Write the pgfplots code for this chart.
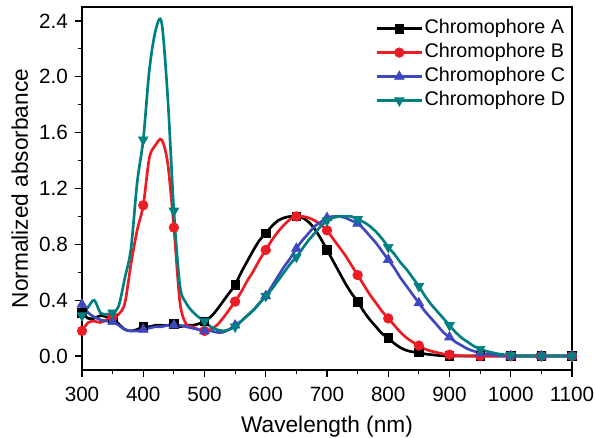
\documentclass[border=0pt]{standalone}
\usepackage{fontspec}
\setmainfont{Liberation Sans}
\usepackage{pgfplots}
\usepackage{pgfplotstable}
\pgfplotsset{compat=1.18}

\definecolor{cA}{RGB}{0,0,0}
\definecolor{cB}{RGB}{237,28,36}
\definecolor{cC}{RGB}{63,72,190}
\definecolor{cD}{RGB}{0,128,128}

% wavelength (nm), normalized absorbance of chromophores A-D
\pgfplotstableread{
x A B C D
300 0.31 0.18 0.37 0.29
310 0.27 0.24 0.31 0.35
320 0.27 0.25 0.28 0.40
330 0.29 0.24 0.26 0.31
340 0.28 0.26 0.25 0.30
350 0.27 0.28 0.245 0.31
360 0.23 0.30 0.22 0.36
370 0.19 0.38 0.19 0.56
380 0.18 0.66 0.18 0.77
390 0.19 0.90 0.18 1.24
400 0.21 1.08 0.19 1.55
410 0.21 1.42 0.20 2.05
420 0.22 1.51 0.21 2.33
430 0.22 1.55 0.21 2.39
440 0.22 1.38 0.22 1.85
450 0.23 0.92 0.22 1.04
460 0.21 0.38 0.22 0.50
470 0.22 0.23 0.21 0.38
480 0.22 0.21 0.20 0.32
490 0.23 0.19 0.19 0.28
500 0.25 0.18 0.18 0.25
510 0.28 0.19 0.18 0.21
520 0.33 0.22 0.17 0.19
530 0.39 0.27 0.17 0.18
540 0.45 0.33 0.19 0.19
550 0.51 0.39 0.22 0.21
560 0.60 0.46 0.25 0.25
570 0.68 0.54 0.29 0.29
580 0.76 0.61 0.33 0.33
590 0.83 0.69 0.38 0.38
600 0.88 0.76 0.43 0.43
610 0.93 0.83 0.50 0.48
620 0.97 0.89 0.57 0.54
630 0.99 0.94 0.64 0.60
640 1.00 0.98 0.70 0.66
650 1.00 1.00 0.77 0.71
660 0.99 1.00 0.83 0.77
670 0.96 0.99 0.88 0.83
680 0.91 0.97 0.93 0.88
690 0.84 0.94 0.96 0.93
700 0.76 0.90 0.99 0.97
710 0.68 0.84 1.00 0.99
720 0.60 0.78 1.00 1.00
730 0.52 0.72 0.99 1.00
740 0.45 0.65 0.97 1.00
750 0.39 0.58 0.95 0.98
760 0.32 0.51 0.91 0.96
770 0.26 0.44 0.86 0.93
780 0.21 0.38 0.81 0.89
790 0.16 0.32 0.75 0.84
800 0.13 0.27 0.69 0.78
810 0.09 0.22 0.63 0.73
820 0.06 0.17 0.56 0.67
830 0.04 0.13 0.50 0.62
840 0.03 0.10 0.44 0.56
850 0.025 0.075 0.38 0.50
860 0.015 0.05 0.32 0.43
870 0.01 0.035 0.27 0.37
880 0.005 0.025 0.22 0.32
890 0.002 0.015 0.17 0.27
900 0 0.01 0.135 0.22
910 0 0.005 0.10 0.17
920 0 0.002 0.075 0.13
930 0 0 0.05 0.10
940 0 0 0.035 0.07
950 0 0 0.02 0.05
960 0 0 0.015 0.035
970 0 0 0.01 0.025
980 0 0 0.005 0.015
990 0 0 0.002 0.01
1000 0 0 0 0.005
1010 0 0 0 0.002
1020 0 0 0 0
1030 0 0 0 0
1040 0 0 0 0
1050 0 0 0 0
1060 0 0 0 0
1070 0 0 0 0
1080 0 0 0 0
1090 0 0 0 0
1100 0 0 0 0
}\spectra

\begin{document}
\begin{tikzpicture}
% page = 595 x 437 px at 0.75pt per px, axis box 82..572 x 7..370 px
\useasboundingbox (-61.5pt,-50.25pt) rectangle (384.75pt,277.5pt);
\begin{axis}[
    at={(0pt,0pt)}, anchor=south west,
    scale only axis,
    width=367.5pt, height=272.25pt,
    xmin=300, xmax=1100, ymin=-0.1, ymax=2.5,
    xtick={300,400,...,1100},
    ytick={0,0.4,...,2.4},
    minor x tick num=1, minor y tick num=1,
    xtick pos=bottom, ytick pos=left,
    tick align=outside,
    major tick length=5pt, minor tick length=3pt,
    every tick/.style={black, line width=0.9pt},
    axis line style={line width=1.1pt},
    /pgf/number format/assume math mode=true,
    ticklabel style={font=\fontsize{15.5}{18}\selectfont},
    xticklabel style={/pgf/number format/.cd, 1000 sep={}, /tikz/.cd, yshift=-4pt},
    yticklabel style={/pgf/number format/.cd, fixed, fixed zerofill, precision=1, /tikz/.cd, xshift=-2pt},
    xlabel={Wavelength (nm)},
    ylabel={Normalized absorbance},
    label style={font=\fontsize{17}{20}\selectfont},
    xlabel style={at={(axis description cs:0.5,0)}, anchor=base, yshift=-46.5pt},
    ylabel style={at={(axis description cs:0,0.5)}, anchor=base, yshift=40.5pt},
    legend style={at={(1,1)}, anchor=north east, draw=none, fill=none,
        xshift=-4pt, yshift=-8.5pt, inner sep=0pt,
        font=\fontsize{14.8}{17}\selectfont, row sep=3pt,
        nodes={inner sep=1pt, text height=10pt, text depth=3pt}},
    legend cell align=left,
    legend image code/.code={\draw[mark repeat=2, mark phase=2, #1]
        plot coordinates {(0pt,0pt) (17pt,0pt) (34pt,0pt)};},
    every axis plot/.append style={smooth, line width=2pt,
        mark repeat=5, mark phase=1},
]
\addplot[cA, mark=square*, mark size=3.2pt, mark options={solid, line width=0.5pt}]
    table[x=x, y=A] {\spectra};
\addplot[cB, mark=*, mark size=3.6pt, mark options={solid, line width=0.5pt}]
    table[x=x, y=B] {\spectra};
\addplot[cC, mark=triangle*, mark size=4.2pt, mark options={solid, line width=0.5pt}]
    table[x=x, y=C] {\spectra};
\addplot[cD, mark=triangle*, mark size=4.2pt, mark options={solid, rotate=180, line width=0.5pt}]
    table[x=x, y=D] {\spectra};
\legend{Chromophore A, Chromophore B, Chromophore C, Chromophore D}
\end{axis}
\end{tikzpicture}
\end{document}
